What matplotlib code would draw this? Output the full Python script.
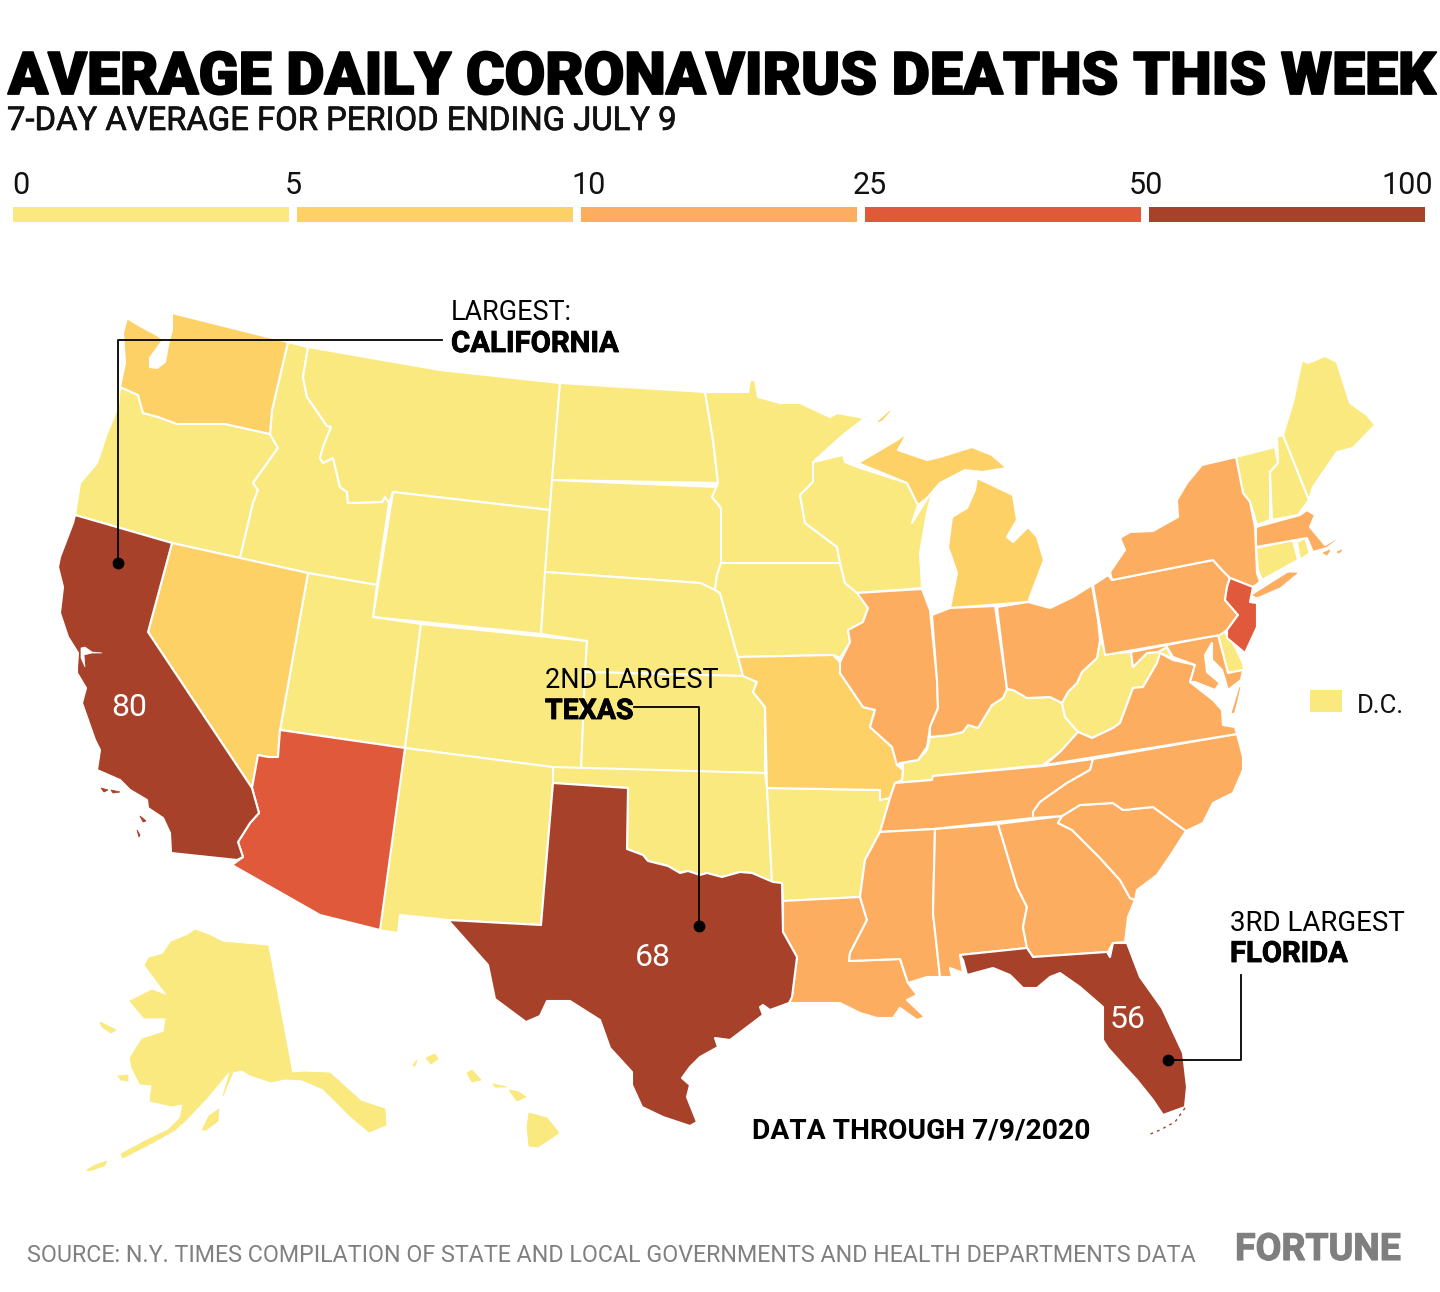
import matplotlib
matplotlib.use("Agg")
import matplotlib.pyplot as plt
import matplotlib.patheffects as pe
from matplotlib.patches import Polygon, Rectangle

plt.rcParams["font.family"] = ["Roboto", "DejaVu Sans"]

# outlines, in image pixels
WA = [(127,318),(140,326),(157,335),(163,340),(150,358),(150,367),(157,368),(165,362),(168,345),(172,330),(172,313),(288,342),(272,410),(270,434),(225,424),(177,424),(158,417),(143,413),(138,395),(120,387),(125,363),(123,333)]
OR = [(120,387),(138,395),(143,413),(158,417),(177,424),(225,424),(270,434),(278,448),(253,483),(258,490),(253,503),(240,558),(172,543),(75,515),(80,483),(97,463),(107,433),(118,407)]
CA = [(75,515),(172,543),(148,632),(252,788),(259,813),(250,823),(238,842),(243,857),(237,860),(171,853),(170,833),(163,818),(148,808),(147,800),(130,790),(120,780),(97,770),(100,750),(95,740),(82,703),(86,688),(77,673),(77,667),(78,653),(68,637),(60,613),(63,587),(58,567),(60,557),(73,523)]
SF_BAY = [(81,648),(85,647),(92,652),(102,653),(92,653),(84,655),(85,667),(81,658)]
CHANNEL1 = [(101,788),(108,790),(104,792)]
CHANNEL2 = [(111,790),(120,792),(113,793)]
CHANNEL3 = [(140,816),(146,821),(143,822)]
CHANNEL4 = [(137,830),(140,835),(139,837)]
NV = [(172,543),(308,573),(280,730),(278,757),(268,757),(258,755),(252,788),(148,632)]
ID = [(288,342),(308,347),(303,377),(307,397),(327,426),(331,427),(323,447),(320,458),(323,463),(333,458),(340,487),(347,492),(348,503),(382,502),(385,497),(389,503),(377,585),(308,573),(240,558),(253,503),(258,490),(253,483),(278,448),(270,434),(272,410)]
MT = [(308,347),(440,370),(560,383),(550,510),(393,492),(389,503),(385,497),(382,502),(348,503),(347,492),(340,487),(333,458),(323,463),(320,458),(323,447),(331,427),(327,426),(307,397),(303,377)]
WY = [(393,492),(550,510),(541,634),(373,617)]
UT = [(308,573),(377,585),(373,617),(421,624),(405,748),(280,730)]
CO = [(421,624),(587,641),(581,771),(405,748)]
AZ = [(280,730),(405,748),(380,930),(320,915),(232,865),(243,857),(238,842),(250,823),(259,813),(252,788),(258,755),(268,757),(278,757)]
NM = [(405,748),(553,767),(553,783),(541,925),(448,920),(400,915),(398,933),(378,930)]
ND = [(560,383),(705,392),(713,440),(718,483),(552,480)]
SD = [(552,480),(718,487),(712,497),(721,508),(721,563),(717,575),(715,590),(700,583),(545,572)]
NE = [(545,572),(700,583),(715,590),(720,593),(735,647),(738,657),(743,676),(585,672),(587,641),(541,634)]
KS = [(585,672),(743,676),(757,682),(753,692),(765,707),(765,773),(581,771)]
OK = [(553,767),(765,773),(767,788),(772,882),(752,873),(740,872),(722,877),(707,873),(700,875),(688,871),(680,873),(668,866),(648,861),(643,855),(627,849),(628,788),(553,783)]
TX = [(553,783),(628,788),(627,849),(643,855),(648,861),(668,866),(680,873),(688,871),(700,875),(707,873),(722,877),(740,872),(752,873),(773,882),(782,883),(783,932),(797,957),(792,997),(789,1003),(770,1010),(763,1005),(760,1007),(763,1015),(730,1040),(715,1038),(718,1047),(700,1057),(690,1067),(682,1078),(690,1085),(687,1097),(697,1122),(690,1126),(663,1117),(642,1107),(632,1085),(632,1072),(610,1048),(600,1020),(570,1001),(547,1001),(540,1016),(526,1022),(495,999),(488,965),(448,920),(541,925)]
MN = [(705,392),(748,392),(750,380),(755,380),(758,397),(780,403),(800,403),(830,417),(837,413),(865,418),(843,435),(815,460),(813,482),(800,495),(805,523),(837,547),(840,563),(721,563),(721,508),(712,497),(718,483),(713,440)]
IA = [(721,563),(840,563),(845,583),(857,592),(868,608),(863,622),(848,630),(850,642),(840,658),(833,655),(738,657),(735,647),(720,593),(715,590),(717,575)]
MO = [(738,657),(833,655),(840,662),(840,673),(863,707),(875,710),(870,727),(892,747),(897,765),(903,770),(902,780),(895,783),(890,798),(880,800),(880,790),(767,788),(765,707),(753,692),(757,682),(743,676)]
AR = [(767,788),(880,790),(880,800),(890,798),(880,832),(865,860),(860,897),(783,901),(782,883),(773,882),(772,882)]
LA = [(783,901),(860,897),(867,920),(850,953),(849,961),(900,959),(908,983),(917,995),(907,1000),(925,1017),(917,1020),(900,1008),(893,1018),(877,1018),(860,1013),(840,1003),(807,1003),(789,1003),(792,997),(797,957),(783,932)]
WI = [(813,462),(843,455),(845,462),(857,467),(907,483),(918,505),(912,523),(933,489),(927,513),(920,553),(922,588),(857,593),(845,583),(840,563),(837,547),(805,523),(800,495),(813,482)]
IL = [(857,593),(922,589),(930,610),(937,680),(938,708),(930,727),(927,747),(918,760),(900,763),(897,765),(892,747),(870,727),(875,710),(863,707),(840,673),(840,662),(850,642),(848,630),(863,622),(868,608)]
MI_UP = [(858,463),(897,440),(908,432),(898,450),(927,460),(940,457),(972,447),(992,455),(1007,468),(982,472),(965,470),(940,483),(927,498),(918,505),(907,483)]
MI_LOW = [(977,478),(1013,495),(1017,520),(1007,537),(1013,542),(1028,527),(1037,537),(1044,560),(1028,602),(950,608),(957,573),(948,547),(952,517),(967,508),(975,490)]
ISLE_ROYALE = [(878,422),(890,411),(882,420)]
IN = [(932,615),(950,608),(995,606),(1007,689),(1003,698),(992,705),(978,728),(968,725),(963,732),(950,735),(930,737),(930,727),(938,708),(937,680)]
OH = [(997,607),(1028,602),(1050,608),(1073,597),(1092,585),(1098,620),(1100,640),(1097,658),(1082,672),(1077,683),(1068,692),(1062,703),(1050,697),(1027,698),(1013,690),(1007,689)]
KY = [(903,763),(918,760),(927,750),(930,737),(950,735),(963,732),(968,725),(978,728),(992,705),(1003,698),(1007,689),(1013,690),(1027,698),(1050,697),(1062,703),(1065,717),(1078,732),(1060,752),(1043,765),(933,776),(932,780),(895,783),(902,780),(903,770)]
TN = [(895,783),(932,780),(933,776),(1043,766),(1093,759),(1090,770),(1067,783),(1040,802),(1033,812),(1033,818),(933,829),(880,832),(890,798)]
MS = [(880,832),(935,829),(933,913),(940,977),(927,977),(908,983),(900,959),(849,961),(850,953),(867,920),(860,897),(865,860)]
AL = [(935,829),(998,824),(1017,887),(1027,907),(1023,927),(1027,948),(960,955),(963,973),(950,968),(952,977),(940,977),(933,913)]
GA = [(998,824),(1062,816),(1058,823),(1072,830),(1100,858),(1120,880),(1130,898),(1135,900),(1128,917),(1125,942),(1113,943),(1108,952),(1033,957),(1027,948),(1023,927),(1027,907),(1017,887)]
FL = [(960,955),(1027,948),(1033,957),(1107,952),(1110,957),(1113,943),(1127,943),(1140,977),(1162,1008),(1183,1053),(1187,1087),(1185,1107),(1163,1115),(1153,1100),(1137,1080),(1125,1067),(1108,1048),(1103,1040),(1103,1007),(1080,987),(1060,973),(1050,977),(1037,988),(1023,988),(1010,975),(993,968),(967,975),(963,960)]
SC = [(1062,816),(1080,805),(1113,803),(1123,810),(1153,807),(1186,831),(1172,853),(1157,875),(1137,890),(1135,900),(1130,898),(1120,880),(1100,858),(1072,830),(1058,823)]
NC = [(1237,734),(1093,759),(1090,770),(1067,783),(1040,802),(1033,812),(1033,818),(1062,816),(1080,805),(1113,803),(1123,810),(1153,807),(1186,831),(1203,823),(1213,803),(1233,793),(1243,770),(1243,757)]
VA = [(1237,734),(1045,765),(1060,752),(1078,732),(1092,738),(1113,728),(1120,723),(1133,688),(1143,687),(1157,663),(1160,653),(1173,660),(1195,665),(1190,682),(1213,700),(1222,710),(1223,725),(1235,727)]
VA_SHORE = [(1232,713),(1240,687),(1237,700),(1234,712)]
WV = [(1100,640),(1097,658),(1082,672),(1077,683),(1068,692),(1062,703),(1065,717),(1078,732),(1092,738),(1113,728),(1120,723),(1133,688),(1143,687),(1157,663),(1160,653),(1172,658),(1167,647),(1158,652),(1147,653),(1133,667),(1131,652),(1107,654)]
MD = [(1131,652),(1218,635),(1228,673),(1243,670),(1241,680),(1228,690),(1222,670),(1212,660),(1212,643),(1205,655),(1207,672),(1220,683),(1215,690),(1195,682),(1190,682),(1195,665),(1173,657),(1167,647),(1158,652),(1147,653),(1133,667)]
DE = [(1218,635),(1223,630),(1233,643),(1243,663),(1244,670),(1228,673)]
PA = [(1093,585),(1108,575),(1112,580),(1213,560),(1222,570),(1230,578),(1227,587),(1225,600),(1238,615),(1227,630),(1220,635),(1105,655)]
NJ = [(1230,578),(1253,587),(1250,602),(1257,603),(1257,627),(1245,653),(1227,638),(1227,630),(1238,615),(1225,600),(1227,587)]
NY = [(1236,457),(1243,493),(1250,502),(1255,527),(1257,573),(1260,582),(1253,587),(1230,578),(1222,570),(1213,560),(1112,580),(1110,572),(1125,550),(1120,538),(1130,532),(1153,531),(1178,517),(1177,500),(1187,483),(1202,465)]
LONG_ISLAND = [(1253,595),(1288,573),(1297,573),(1280,587),(1257,597)]
VT = [(1236,457),(1275,447),(1278,463),(1270,472),(1270,520),(1257,525),(1250,502),(1243,493)]
NH = [(1277,437),(1283,435),(1309,500),(1298,515),(1272,520),(1270,472),(1278,463)]
ME = [(1283,435),(1293,402),(1302,360),(1308,363),(1325,356),(1337,362),(1350,403),(1367,415),(1375,425),(1353,448),(1337,452),(1313,487),(1309,500)]
MA = [(1256,527),(1300,515),(1307,510),(1315,515),(1310,527),(1325,545),(1337,538),(1328,530),(1338,540),(1327,548),(1313,552),(1307,538),(1256,547)]
CT = [(1256,548),(1293,540),(1298,560),(1262,580),(1258,570)]
RI = [(1297,542),(1305,538),(1310,553),(1300,560)]
MA_ISLE1 = [(1323,553),(1330,550),(1327,555)]
MA_ISLE2 = [(1337,552),(1342,550),(1339,553)]
AK = [(195,930),(209,935),(223,942),(268,946),(292,1073),(304,1072),(330,1073),(361,1101),(385,1109),(386,1125),(369,1132),(350,1116),(333,1099),(323,1089),(302,1080),(285,1079),(271,1082),(250,1075),(242,1070),(233,1072),(223,1096),(231,1069),(206,1099),(185,1121),(175,1130),(154,1142),(123,1158),(121,1154),(147,1140),(168,1130),(180,1118),(183,1104),(171,1106),(150,1101),(152,1085),(140,1084),(132,1068),(130,1058),(142,1039),(164,1032),(166,1018),(144,1018),(130,1001),(152,990),(168,996),(159,984),(145,965),(149,958),(163,954),(171,942),(188,935)]
KODIAK = [(202,1130),(209,1116),(219,1109),(218,1121),(206,1130)]
NUNIVAK = [(118,1076),(128,1075),(128,1081),(121,1080)]
ST_LAWRENCE = [(100,1022),(116,1030),(111,1033),(102,1027)]
ALEUTIANS = [(87,1170),(95,1165),(107,1161),(104,1166),(89,1171)]
HI_BIG = [(529,1113),(547,1118),(559,1133),(538,1147),(529,1146),(527,1127)]
HI_MAUI = [(509,1090),(519,1092),(526,1097),(517,1101)]
HI_MOLOKAI = [(493,1084),(507,1087),(495,1087)]
HI_OAHU = [(467,1073),(472,1070),(481,1080),(472,1082)]
HI_KAUAI = [(426,1058),(435,1054),(438,1059),(431,1064)]
HI_NIIHAU = [(413,1065),(417,1060),(415,1066)]
FL_KEYS = [(1185,1108),(1175,1122),(1160,1130),(1148,1135)]

bin_labels = ["0", "5", "10", "25", "50", "100"]
bin_colors = ["#F9E97E", "#FDD166", "#FDAD60", "#E1593B", "#A8412A"]

bin0_states = [OR, ID, MT, WY, UT, CO, NM, ND, SD, NE, KS, OK, MN, IA, AR, WI, KY, WV, DE, VT, NH, ME, CT, RI]
bin1_states = [WA, NV, MO, MI_UP, MI_LOW]
bin2_states = [LA, IL, IN, OH, TN, MS, AL, GA, SC, NC, VA, MD, PA, NY, MA]
bin3_states = [AZ, NJ]
bin4_states = [CA, TX, FL]
binned_states = [bin0_states, bin1_states, bin2_states, bin3_states, bin4_states]

# alaska, hawaii and the small islands carry no white edge
bin0_islands = [AK, KODIAK, NUNIVAK, ST_LAWRENCE, ALEUTIANS, HI_BIG, HI_MAUI, HI_MOLOKAI, HI_OAHU, HI_KAUAI, HI_NIIHAU]
bin1_islands = [ISLE_ROYALE]
bin2_islands = [VA_SHORE, LONG_ISLAND, MA_ISLE1, MA_ISLE2]
bin4_islands = [CHANNEL1, CHANNEL2, CHANNEL3, CHANNEL4]
binned_islands = [bin0_islands, bin1_islands, bin2_islands, [], bin4_islands]

top_deaths = ["80", "68", "56"]

W, H = 1440, 1292
fig = plt.figure(figsize=(W / 100, H / 100), dpi=100)
ax = fig.add_axes([0, 0, 1, 1])
ax.set_xlim(0, W)
ax.set_ylim(H, 0)
ax.axis("off")


def fit_text(t, width):
    # scale the font until the text is as wide as in the picture
    r = fig.canvas.get_renderer()
    for i in range(3):
        t.set_fontsize(t.get_fontsize() * width / t.get_window_extent(r).width)
    return t


def heavy(t, lw, color="black"):
    t.set_path_effects([pe.withStroke(linewidth=lw, foreground=color)])
    return t


# title block
heavy(fit_text(ax.text(8, 94, "AVERAGE DAILY CORONAVIRUS DEATHS THIS WEEK", fontsize=40, fontweight="black",
                       color="black"), 1425), 1.3)
heavy(fit_text(ax.text(7, 130, "7-DAY AVERAGE FOR PERIOD ENDING JULY 9", fontsize=22,
                       color="#111111"), 671), 0.5, "#111111")

# colour scale
bar_w, bar_step = 276, 284
for i, c in enumerate(bin_colors):
    ax.add_patch(Rectangle((13 + i * bar_step, 207), bar_w, 15, fc=c, ec="none"))
label_x = [12, 285, 571, 853, 1129]
for x, lab in zip(label_x, bin_labels):
    ax.text(x, 194, lab, ha="left", fontsize=22, color="#111111")
ax.text(1433, 194, bin_labels[5], ha="right", fontsize=22, color="#111111")

# states
for states, islands, c in zip(binned_states, binned_islands, bin_colors):
    for outline in states:
        ax.add_patch(Polygon(outline, closed=True, fc=c, ec="white", lw=1.5, joinstyle="round", zorder=2))
    for outline in islands:
        ax.add_patch(Polygon(outline, closed=True, fc=c, ec=c, lw=0.6, zorder=2))
ax.add_patch(Polygon(SF_BAY, closed=True, fc="white", ec="white", lw=0.5, zorder=3))
ax.plot(*zip(*FL_KEYS), color=bin_colors[4], lw=1, ls=(0, (2, 3)), zorder=2)

# numbers inside the three largest
for (x, y), s in zip([(129, 708), (653, 957), (1128, 1020)], top_deaths):
    ax.text(x, y, s, color="white", ha="center", va="center", fontsize=23, zorder=4)

# callouts
leaders = [([442, 118, 118], [340, 340, 563]),
           ([634, 699, 699], [707, 707, 926]),
           ([1241, 1241, 1168], [975, 1060, 1060])]
for xs, ys in leaders:
    ax.plot(xs, ys, color="black", lw=1.3, zorder=5)
    ax.plot(xs[-1], ys[-1], "o", color="black", ms=7.5, zorder=5)

callouts = [(451, 320, "LARGEST:", 121, 352, "CALIFORNIA", 168),
            (545, 688, "2ND LARGEST", 174, 719, "TEXAS", 89),
            (1230, 931, "3RD LARGEST", 174, 962, "FLORIDA", 118)]
for x, y1, s1, w1, y2, s2, w2 in callouts:
    fit_text(ax.text(x, y1, s1, fontsize=24, color="black", zorder=6), w1)
    heavy(fit_text(ax.text(x, y2, s2, fontsize=24, fontweight="bold", color="black", zorder=6), w2), 0.6)

# D.C.
ax.add_patch(Rectangle((1310, 690), 32, 22, fc=bin_colors[0], ec="none"))
fit_text(ax.text(1357, 713, "D.C.", fontsize=22, color="#111111"), 47)

fit_text(ax.text(752, 1138, "DATA THROUGH 7/9/2020", fontsize=19, fontweight="bold", color="black"), 339)

fit_text(ax.text(27, 1262, "SOURCE: N.Y. TIMES COMPILATION OF STATE AND LOCAL GOVERNMENTS AND HEALTH DEPARTMENTS DATA",
                 fontsize=17, color="#808080"), 1171)
heavy(fit_text(ax.text(1235, 1260, "FORTUNE", fontsize=44, fontweight="bold", color="#7F7F7F"), 166), 0.8, "#7F7F7F")

fig.savefig("out.png", dpi=100)
